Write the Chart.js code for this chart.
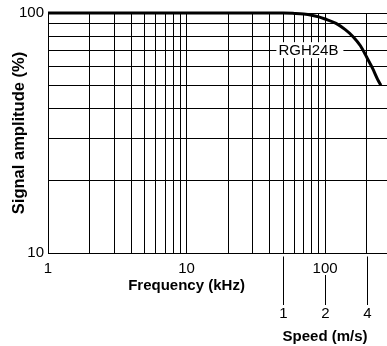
<!DOCTYPE html>
<html><head><meta charset="utf-8">
<script src="https://cdn.jsdelivr.net/npm/chart.js@4"></script>
<style>html,body{margin:0;padding:0;background:#fff}#wrap{width:387px;height:346px;position:relative}</style>
</head><body><div id="wrap"><canvas id="c"></canvas></div>
<script>
const freqKHz   = [1, 10, 50, 60, 70, 80, 90, 100, 120, 140, 160, 180, 200, 220, 240, 253];
const amplitude = [100, 100, 100, 99.6, 99, 97.9, 96.3, 94.4, 90.5, 85.2, 79.5, 73, 65.4, 58.9, 52.8, 50];
const xTicks = [1,2,3,4,5,6,7,8,9,10,20,30,40,50,60,70,80,90,100,200];
const xLabels = {1:'1', 10:'10', 100:'100'};
const yTicks = [10,20,30,40,50,60,70,80,90,100];
const yLabels = {10:'10', 100:'100'};
const speedValues = ['1','2','4'];
const speedKHz = [50, 100, 200];
const seriesLabel = 'RGH24B';
const seriesLabelAt = {x: 75.8, y: 70};
const xTitle = 'Frequency (kHz)';
const speedTitle = 'Speed (m/s)';
const yTitle = 'Signal amplitude (%)';

const FONT = '"Liberation Sans", Arial, Helvetica, sans-serif';
Chart.defaults.font.family = FONT;
Chart.defaults.color = '#000';

const overlay = {
  id: 'overlay',
  afterDraw(chart) {
    const {ctx, scales: {x, y}, chartArea} = chart;
    ctx.save();
    // series label with white box
    ctx.font = '15px ' + FONT;
    const px = x.getPixelForValue(seriesLabelAt.x), py = y.getPixelForValue(seriesLabelAt.y);
    const w = ctx.measureText(seriesLabel).width;
    ctx.fillStyle = '#fff';
    ctx.fillRect(px - w/2 - 2, py - 8, w + 7, 16);
    ctx.fillStyle = '#000';
    ctx.textAlign = 'center';
    ctx.textBaseline = 'middle';
    ctx.fillText(seriesLabel, px, py + 1);

    const b = chartArea.bottom;
    // frequency title centered on 10
    ctx.font = 'bold 15px ' + FONT;
    ctx.fillText(xTitle, x.getPixelForValue(10), b + 33);
    // speed axis
    ctx.strokeStyle = '#000';
    ctx.lineWidth = 1;
    ctx.font = '15px ' + FONT;
    speedKHz.forEach((k, i) => {
      const sx = Math.round(x.getPixelForValue(k)) + 0.5;
      const y0 = xLabels[k] ? b + 22 : b + 3.5;
      ctx.beginPath();
      ctx.moveTo(sx, y0);
      ctx.lineTo(sx, b + 52);
      ctx.stroke();
      ctx.fillText(speedValues[i], sx, b + 61);
    });
    ctx.font = 'bold 15px ' + FONT;
    ctx.fillText(speedTitle, x.getPixelForValue(100), b + 84);
    ctx.restore();
  }
};

new Chart(document.getElementById('c'), {
  type: 'line',
  data: {
    datasets: [{
      data: freqKHz.map((f, i) => ({x: f, y: amplitude[i]})),
      borderColor: '#000',
      borderWidth: 3,
      pointRadius: 0,
      cubicInterpolationMode: 'monotone',
      fill: false,
      clip: false
    }]
  },
  options: {
    responsive: true,
    maintainAspectRatio: false,
    animation: false,
    layout: {padding: {top: 13, right: 0, left: 0, bottom: 0}},
    plugins: {legend: {display: false}, tooltip: {enabled: false}},
    scales: {
      x: {
        type: 'logarithmic',
        min: 1, max: 280,
        afterBuildTicks: s => { s.ticks = xTicks.map(v => ({value: v})); },
        afterFit: s => { s.height = 93; },
        ticks: {
          autoSkip: false, maxRotation: 0, padding: 7,
          font: {size: 15},
          callback: v => xLabels[v] ?? ''
        },
        grid: {color: '#000', lineWidth: 1, drawTicks: false},
        border: {color: '#000', width: 1}
      },
      y: {
        type: 'logarithmic',
        min: 10, max: 100,
        afterBuildTicks: s => { s.ticks = yTicks.map(v => ({value: v})); },
        afterFit: s => { s.width = 48; },
        ticks: {
          autoSkip: false, padding: 4,
          font: {size: 15},
          callback: v => yLabels[v] ?? ''
        },
        title: {display: true, text: yTitle, font: {size: 16.5, weight: 'bold'}, padding: {top: 9.5, bottom: 0}},
        grid: {color: '#000', lineWidth: 1, drawTicks: false},
        border: {color: '#000', width: 1}
      }
    }
  },
  plugins: [overlay]
});
</script>
</body></html>
